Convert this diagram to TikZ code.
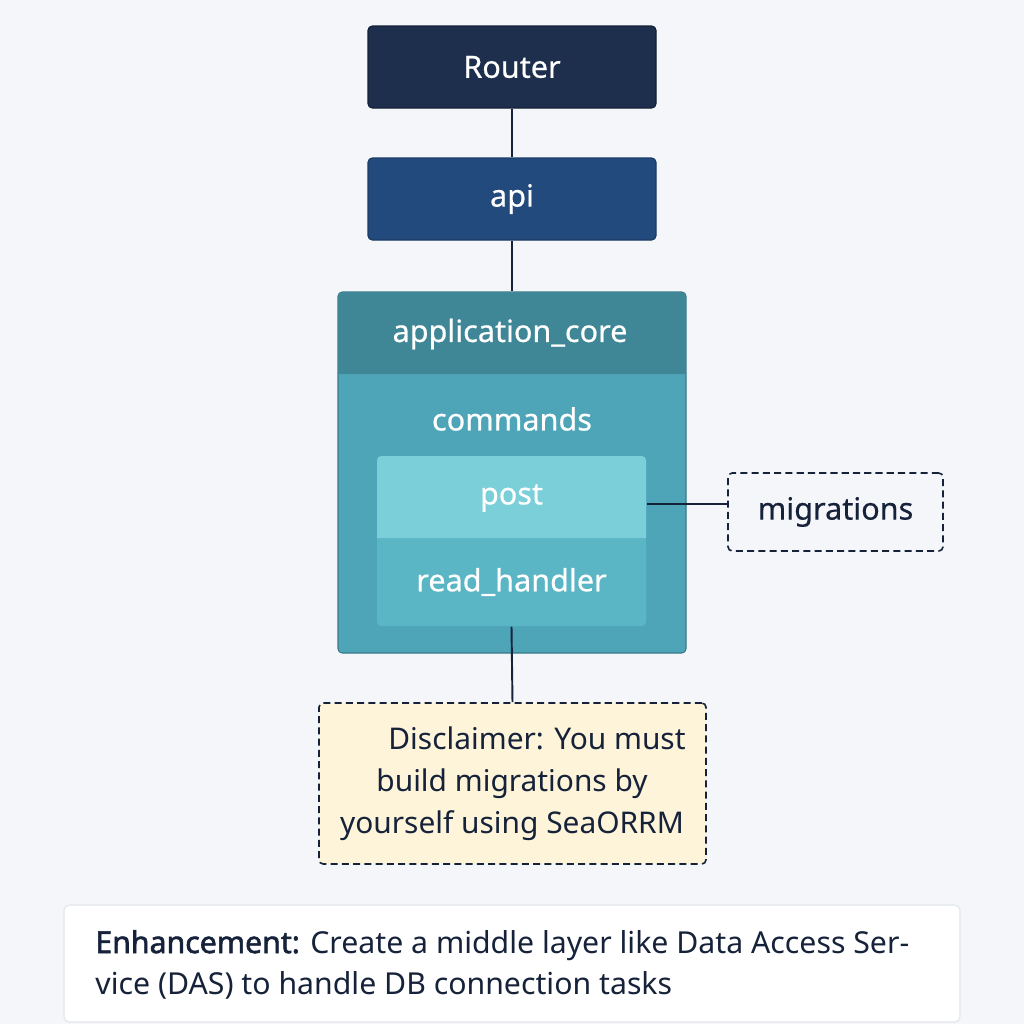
\documentclass[tikz,border=0pt]{standalone}
\usepackage{fontspec}
\setmainfont{Noto Sans}[AutoFakeBold=1.8]
\newfontfamily\medfont{Noto Sans}[FakeBold=0.5]
\definecolor{bg}{HTML}{F4F6FA}
\definecolor{navy}{HTML}{1E2F4E}
\definecolor{apiblue}{HTML}{234A7D}
\definecolor{corehead}{HTML}{3F8796}
\definecolor{corebody}{HTML}{4EA5B8}
\definecolor{postc}{HTML}{7ACFD8}
\definecolor{readc}{HTML}{5AB5C5}
\definecolor{lnc}{HTML}{16223A}
\definecolor{note}{HTML}{FDF4D9}
\definecolor{enhb}{HTML}{E3E6EC}
\begin{document}
\begin{tikzpicture}[x=0.01cm,y=-0.01cm,
  txt/.style={font=\medfont\fontsize{8.7}{10}\selectfont},
  darkbox/.style={rectangle,rounded corners=1.2pt,draw=navy!70!black,line width=0.3pt,minimum width=288*0.01cm,minimum height=82*0.01cm,text=white,txt},
  conn/.style={draw=lnc,line width=0.55pt},
  dashbox/.style={rectangle,rounded corners=1.2pt,draw=lnc,dashed,dash pattern=on 2pt off 1.2pt,line width=0.45pt}]
\fill[bg] (0,0) rectangle (1024,1024);
\useasboundingbox (0,0) rectangle (1024,1024);
% Router and api
\node[darkbox,fill=navy] (router) at (512,67) {Router};
\node[darkbox,fill=apiblue,draw=apiblue!80!black] (api) at (512,199) {api};
% application core
\node[rectangle,rounded corners=1.2pt,fill=corebody,draw=corehead!90!black,line width=0.3pt,minimum width=348*0.01cm,minimum height=361*0.01cm] (core) at (512,472.5) {};
\fill[corehead] (338.5,374) {[rounded corners=1.2pt] -- (338.5,292.5) -- (685.5,292.5)} -- (685.5,374) -- cycle;
\node[txt,text=white] (corelabel) at (510,334) {application\_core};
\node[txt,text=white] (commands) at (512,419) {commands};
% inner box
\fill[readc] (377,538) {[rounded corners=1.2pt] -- (377,626) -- (646,626)} -- (646,538) -- cycle;
\fill[postc] (377,538) {[rounded corners=1.2pt] -- (377,456) -- (646,456)} -- (646,538) -- cycle;
\node[txt,text=white,minimum width=269*0.01cm,minimum height=82*0.01cm] (post) at (511.5,498) {post};
\node[txt,text=white,minimum width=269*0.01cm,minimum height=88*0.01cm] (read) at (511.5,582) {read\_handler};
% migrations
\node[dashbox,txt,fill=bg,text=lnc,minimum width=215*0.01cm,minimum height=78*0.01cm] (mig) at (835.5,512) {migrations};
% disclaimer
\node[dashbox,fill=note,text=lnc,minimum width=387*0.01cm,minimum height=161*0.01cm] (disc) at (512.5,783.5) {};
\node[text=lnc,align=center,font=\fontsize{8.5}{11.95}\selectfont] (disctext) at (512,784) {\hspace*{0.5cm}Disclaimer: You must\\build migrations by\\yourself using SeaORRM};
% enhancement
\node[rectangle,rounded corners=1.5pt,fill=white,draw=enhb,line width=0.3pt,minimum width=896*0.01cm,minimum height=117*0.01cm] (enh) at (512,963.5) {};
\node[anchor=west,text=lnc,align=left,font=\fontsize{8.6}{11.7}\selectfont] (enhtext) at (83,964.5) {\textbf{Enhancement:} Create a middle layer like Data Access Ser-\\vice (DAS) to handle DB connection tasks};
% connectors
\draw[conn] (router.south) -- (api.north);
\draw[conn] (api.south) -- (core.north);
\draw[conn] (post.east) ++(0,6) coordinate (pe) -- (mig.west |- pe);
\draw[conn] (read.south) -- (disc.north);
\end{tikzpicture}
\end{document}
